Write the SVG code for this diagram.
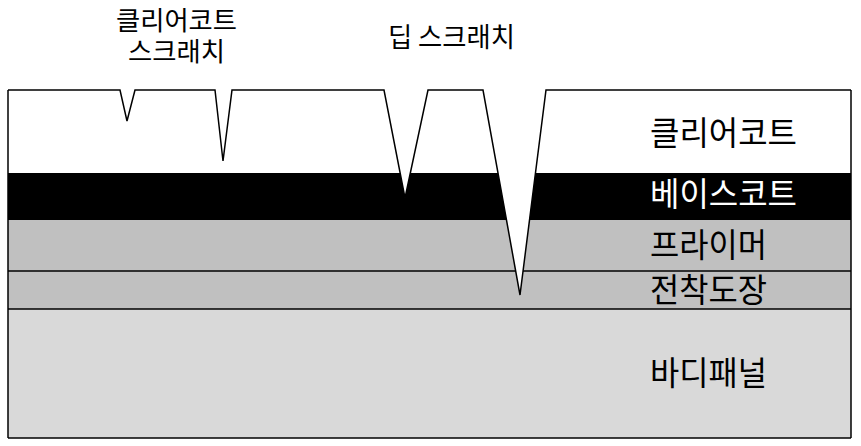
<svg xmlns="http://www.w3.org/2000/svg" width="861" height="446" viewBox="0 0 861 446">
<style>
.t{font-family:"Noto Sans CJK KR","Noto Sans",sans-serif;fill:#000}
.w{fill:#fff}
.edge{fill:none;stroke:#000;stroke-width:1.5}
</style>
<rect width="861" height="446" fill="#fff"/>
<g id="layers">
<rect id="clearcoat" x="8" y="90" width="843" height="83" fill="#fff"/>
<rect id="basecoat" x="8" y="173" width="843" height="47" fill="#000"/>
<rect id="primer" x="8" y="220" width="843" height="51" fill="#c0c0c0"/>
<rect id="edcoat" x="8" y="271" width="843" height="38" fill="#c0c0c0"/>
<rect id="body" x="8" y="309" width="843" height="129" fill="#d9d9d9"/>
<line class="edge" x1="8" y1="271" x2="851" y2="271"/>
<line class="edge" x1="8" y1="309" x2="851" y2="309"/>
</g>
<g id="scratches">
<polygon points="120,90 127,121 135,90" fill="#fff"/>
<polygon points="215,90 223,161 232,90" fill="#fff"/>
<polygon points="384,90 405,198 428,90" fill="#fff"/>
<polygon points="483,90 520,295 546,90" fill="#fff"/>
</g>
<g id="connectors">
<polyline class="edge" points="8,90 120,90 127,121 135,90 215,90 223,161 232,90 384,90 405,198 428,90 483,90 520,295 546,90 851,90"/>
<line class="edge" x1="8" y1="90" x2="8" y2="438"/>
<line class="edge" x1="851" y1="90" x2="851" y2="438"/>
<line class="edge" x1="8" y1="438" x2="851" y2="438"/>
</g>
<g id="labels">
<text class="t" x="650" y="145" font-size="33" textLength="147" lengthAdjust="spacingAndGlyphs">클리어코트</text>
<text class="t w" x="650" y="206" font-size="33" textLength="147" lengthAdjust="spacingAndGlyphs">베이스코트</text>
<text class="t" x="650" y="257" font-size="33" textLength="117" lengthAdjust="spacingAndGlyphs">프라이머</text>
<text class="t" x="650" y="302" font-size="33" textLength="117" lengthAdjust="spacingAndGlyphs">전착도장</text>
<text class="t" x="650" y="385" font-size="33" textLength="117" lengthAdjust="spacingAndGlyphs">바디패널</text>
<text class="t" x="116" y="30" font-size="26" textLength="121" lengthAdjust="spacingAndGlyphs">클리어코트</text>
<text class="t" x="128" y="61" font-size="26" textLength="97" lengthAdjust="spacingAndGlyphs">스크래치</text>
<text class="t" x="388" y="47" font-size="27" textLength="127" lengthAdjust="spacingAndGlyphs">딥 스크래치</text>
</g>
</svg>
